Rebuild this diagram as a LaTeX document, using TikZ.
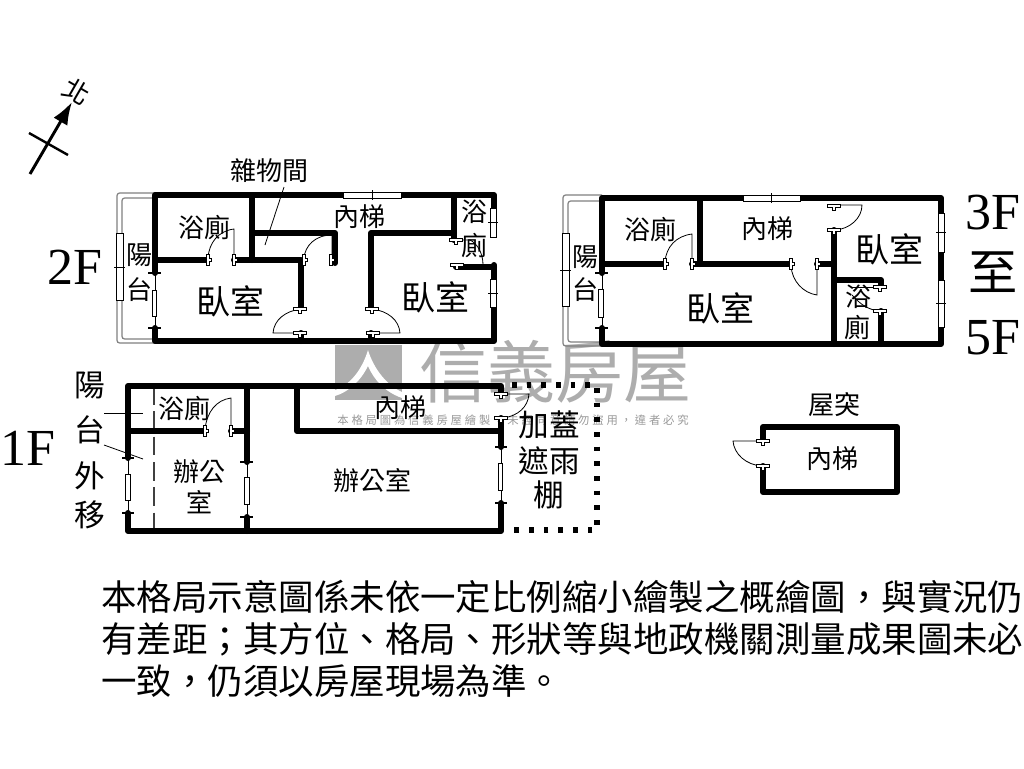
\documentclass[tikz,border=0pt]{standalone}
\usepackage{fontspec}
\usetikzlibrary{arrows.meta}
\setmainfont{Liberation Serif}
\newfontfamily\cjk{Noto Sans CJK TC}
\newfontfamily\cjkwide[LetterSpace=25]{Noto Sans CJK TC}
\newcommand{\fz}[1]{\fontsize{#1}{#1}\selectfont}
\newcommand{\jv}[2]{\draw[jamb] (#1-1.6,#2-5.5) -- (#1+1.6,#2-5.5) -- (#1+1.6,#2-1.4) -- (#1+3.6,#2-1.4) -- (#1+3.6,#2+1.4) -- (#1+1.6,#2+1.4) -- (#1+1.6,#2+5.5) -- (#1-1.6,#2+5.5) -- cycle;}
\newcommand{\jh}[2]{\draw[jamb] (#1-6.5,#2-1.6) -- (#1+6.5,#2-1.6) -- (#1+6.5,#2+1.6) -- (#1+1.4,#2+1.6) -- (#1+1.4,#2+4) -- (#1-1.4,#2+4) -- (#1-1.4,#2+1.6) -- (#1-6.5,#2+1.6) -- cycle;}
\begin{document}
\begin{tikzpicture}[x=0.75pt,y=-0.75pt,
  wall/.style={line width=4.5pt,line cap=round,line join=round,draw=black},
  thin/.style={line width=0.6pt,draw=black},
  tickl/.style={line width=2.2pt,draw=black},
  jamb/.style={line width=0.5pt,draw=black,fill=white},
  win/.style={line width=0.5pt,draw=black,fill=white},
  balc/.style={line width=0.9pt,draw=black!50,rounded corners=2pt},
  t26/.style={font=\cjk\fz{19.5},inner sep=0pt},
  t34/.style={font=\cjk\fz{25.5},inner sep=0pt},
  t30/.style={font=\cjk\fz{23},inner sep=0pt},
  big/.style={font=\fz{39},inner sep=0pt},
  para/.style={font=\cjk\fz{26.6},inner sep=0pt,anchor=west},
  wm/.style={font=\cjk\fz{51},inner sep=0pt,text=black!32},
  wmsmall/.style={font=\cjkwide\fz{8.5},inner sep=0pt,text=black!40},
  dot/.style={line width=3.8pt,draw=black,dash pattern=on 3.4pt off 7.6pt}]
\useasboundingbox (0,0) rectangle (1024,768);
\fill[white] (0,0) rectangle (1024,768);
% watermark
\fill[black!32] (335,345) rectangle (402,400);
\fill[white] (335,390) .. controls (350,385) and (362,370) .. (368,350) .. controls (374,370) and (388,386) .. (402,392) -- (402,398) .. controls (385,392) and (374,380) .. (368,366) .. controls (360,382) and (348,392) .. (335,396) -- cycle;
\node[wm] (wmt) at (555,372) {信義房屋};
\node[wmsmall] (wms) at (513,420) {本格局圖為信義房屋繪製，未經同意請勿盜用，違者必究};
% north
\draw[line width=2.2pt,-{Latex[length=17pt,width=12pt]}] (30,174) -- (72,102);
\draw[line width=1.8pt] (29,133) -- (68,155);
\node[t26,rotate=-30] (north) at (77,92) {北};
% ------- 2F
\draw[balc] (155,193) -- (117,193) -- (117,343) -- (155,343);
\draw[balc] (155,198) -- (122,198) -- (122,339) -- (155,339);
\draw[win] (116,233) rectangle (123,300); \draw[thin] (114,267) -- (125,267);
\draw[thin] (155,273) -- (155,328);
\draw[win] (152,290) rectangle (156,316);
\draw[wall] (155,273) -- (155,195) -- (343,195);
\draw[wall] (401,195) -- (494,195) -- (494,208);
\draw[wall] (494,265) -- (494,279);
\draw[wall] (494,307) -- (494,341) -- (155,341) -- (155,328);
\draw[tickl] (148,273) -- (161,273); \draw[tickl] (148,328) -- (161,328);
\draw[win] (343,192) rectangle (401,198); \draw[thin] (372,190) -- (372,200);
\draw[win] (490,208) rectangle (496,237); \draw[thin] (488,222) -- (498,222);
\draw[win] (490,279) rectangle (496,307); \draw[thin] (488,293) -- (498,293);
\draw[wall] (155,260) -- (208,260);
\draw[wall] (234,260) -- (301,260) -- (301,308);
\draw[wall] (301,333) -- (301,341);
\draw[wall] (252,195) -- (252,260);
\draw[wall] (252,233) -- (335,233) -- (335,263);
\draw[wall] (371,308) -- (371,233) -- (454,233);
\draw[wall] (454,195) -- (454,240);
\draw[wall] (371,333) -- (371,341);
\draw[wall] (456,267) -- (494,267);
\draw[thin] (208,258) .. controls (209,243) and (218,231) .. (234,229) -- (234,260);
\jv{208}{260}\jv{234}{260}
\draw[thin] (304,258) .. controls (305,246) and (315,235) .. (332,235) -- (332,263);
\jv{304}{260}\jv{331}{260}
\draw[thin] (301,309) .. controls (285,311) and (274,320) .. (273,333) -- (301,333);
\jh{300}{309}\jh{300}{333}
\draw[thin] (372,309) .. controls (388,311) and (399,320) .. (400,333) -- (373,333);
\jh{372}{309}\jh{373}{333}
\draw[thin] (456,240) -- (470,240) .. controls (478,244) and (483,254) .. (483,265);
\jh{456}{240}\jh{457}{265}
\draw[thin] (284,187) -- (265,245);
\node[t26] (a1) at (269,171) {雜物間};
\node[t26] (a2) at (204,227) {浴廁};
\node[t26] (a3) at (359,217) {內梯};
\node[t26] (a4) at (474,212) {浴};
\node[t26] (a5) at (474,245) {廁};
\node[t34] (a6) at (230,301) {臥室};
\node[t34] (a7) at (435,297) {臥室};
\node[t26] (a8) at (139,255) {陽};
\node[t26] (a9) at (139,290) {台};
\node[big] (f2) at (75,267) {2F};
% ------- 3F-5F
\draw[balc] (602,195) -- (563,195) -- (563,346) -- (602,346);
\draw[balc] (602,201) -- (568,201) -- (568,342) -- (602,342);
\draw[win] (562,233) rectangle (569,306); \draw[thin] (560,270) -- (571,270);
\draw[thin] (602,273) -- (602,328);
\draw[win] (598,289) rectangle (603,317);
\draw[wall] (602,273) -- (602,198) -- (743,198);
\draw[wall] (800,198) -- (941,198) -- (941,213);
\draw[wall] (941,252) -- (941,280);
\draw[wall] (941,327) -- (941,344) -- (602,344) -- (602,328);
\draw[tickl] (595,273) -- (608,273); \draw[tickl] (595,328) -- (608,328);
\draw[win] (743,195) rectangle (800,201); \draw[thin] (771,193) -- (771,203);
\draw[win] (938,213) rectangle (944,252); \draw[thin] (936,232) -- (946,232);
\draw[win] (938,280) rectangle (944,327); \draw[thin] (936,303) -- (946,303);
\draw[wall] (602,264) -- (665,264);
\draw[wall] (700,198) -- (700,264);
\draw[wall] (692,264) -- (791,264);
\draw[wall] (817,264) -- (834,264);
\draw[wall] (834,230) -- (834,344);
\draw[wall] (834,280) -- (881,280) -- (881,286);
\draw[wall] (881,311) -- (881,344);
\draw[thin] (665,262) .. controls (666,247) and (676,236) .. (692,234) -- (692,264);
\jv{665}{264}\jv{692}{264}
\draw[thin] (791,266) .. controls (792,281) and (803,293) .. (817,295) -- (817,264);
\jv{791}{264}\jv{817}{264}
\draw[thin] (834,205) -- (862,205) .. controls (862,218) and (850,229) .. (835,230);
\jh{834}{206}\jh{834}{230}
\draw[thin] (852,287) -- (880,287);
\draw[thin] (852,295) .. controls (860,304) and (868,310) .. (880,311);
\jh{880}{287}\jh{880}{311}
\node[t26] (b1) at (650,229) {浴廁};
\node[t26] (b2) at (767,229) {內梯};
\node[t34] (b3) at (889,249) {臥室};
\node[t34] (b4) at (720,308) {臥室};
\node[t26] (b5) at (585,257) {陽};
\node[t26] (b6) at (585,290) {台};
\node[t26] (b7) at (858,297) {浴};
\node[t26] (b8) at (857,327) {廁};
\node[big] (f3) at (993,213) {3F};
\node[font=\cjk\fz{37},inner sep=0pt] (f4) at (993,272) {至};
\node[big] (f5) at (993,338) {5F};
% ------- 1F
\draw[line width=1.2pt,draw=black!75,dash pattern=on 14pt off 5pt] (154,386) -- (154,531);
\draw[thin] (128,458) -- (128,513);
\draw[win] (125,474) rectangle (130,500);
\draw[thin] (247,462) -- (247,517);
\draw[win] (244,477) rectangle (249,504);
\draw[thin] (501,447) -- (501,503);
\draw[win] (498,463) rectangle (502,490);
\draw[wall] (128,458) -- (128,386) -- (501,386) -- (501,392);
\draw[wall] (501,418) -- (501,447);
\draw[wall] (501,503) -- (501,531) -- (128,531) -- (128,513);
\draw[wall] (247,386) -- (247,462);
\draw[wall] (247,517) -- (247,531);
\draw[wall] (128,431) -- (205,431);
\draw[wall] (231,431) -- (247,431);
\draw[wall] (297,386) -- (297,431) -- (500,431);
\draw[tickl] (122,458) -- (134,458); \draw[tickl] (122,513) -- (134,513);
\draw[tickl] (240,462) -- (253,462); \draw[tickl] (240,517) -- (253,517);
\draw[tickl] (495,447) -- (507,447); \draw[tickl] (495,503) -- (507,503);
\draw[thin] (205,429) .. controls (207,412) and (216,400) .. (231,398) -- (231,431);
\jv{205}{431}\jv{231}{431}
\draw[thin] (501,394) -- (529,394) .. controls (528,407) and (518,416) .. (503,418);
\jh{501}{394}\jh{501}{418}
\draw[dot] (512,385) -- (597,385) -- (597,530) -- (510,530);
\draw[thin] (104,413) -- (143,413);
\draw[thin] (104,445) -- (143,459);
\node[t26] (c1) at (184,408) {浴廁};
\node[t26] (c2) at (400,408) {內梯};
\node[t26] (c3) at (199,472) {辦公};
\node[t26] (c4) at (199,502) {室};
\node[t26] (c5) at (372,481) {辦公室};
\node[t30] (c6) at (549,425) {加蓋};
\node[t30] (c7) at (549,461) {遮雨};
\node[t30] (c8) at (549,495) {棚};
\node[t30] (c9) at (90,385) {陽};
\node[t30] (c10) at (90,430) {台};
\node[t30] (c11) at (90,476) {外};
\node[t30] (c12) at (90,515) {移};
\node[big] (f1) at (28,448) {1F};
% ------- roof
\draw[wall] (763,441) -- (763,427) -- (897,427) -- (897,492) -- (763,492) -- (763,466);
\draw[thin] (763,441) -- (733,441) .. controls (734,454) and (746,465) .. (762,466);
\jh{763}{441}\jh{763}{466}
\node[t26] (d1) at (834,405) {屋突};
\node[t26] (d2) at (832,459) {內梯};
% ------- note
\node[para] (n1) at (101,597) {本格局示意圖係未依一定比例縮小繪製之概繪圖，與實況仍};
\node[para] (n2) at (101,639) {有差距；其方位、格局、形狀等與地政機關測量成果圖未必};
\node[para] (n3) at (101,681) {一致，仍須以房屋現場為準。};
\end{tikzpicture}
\end{document}
